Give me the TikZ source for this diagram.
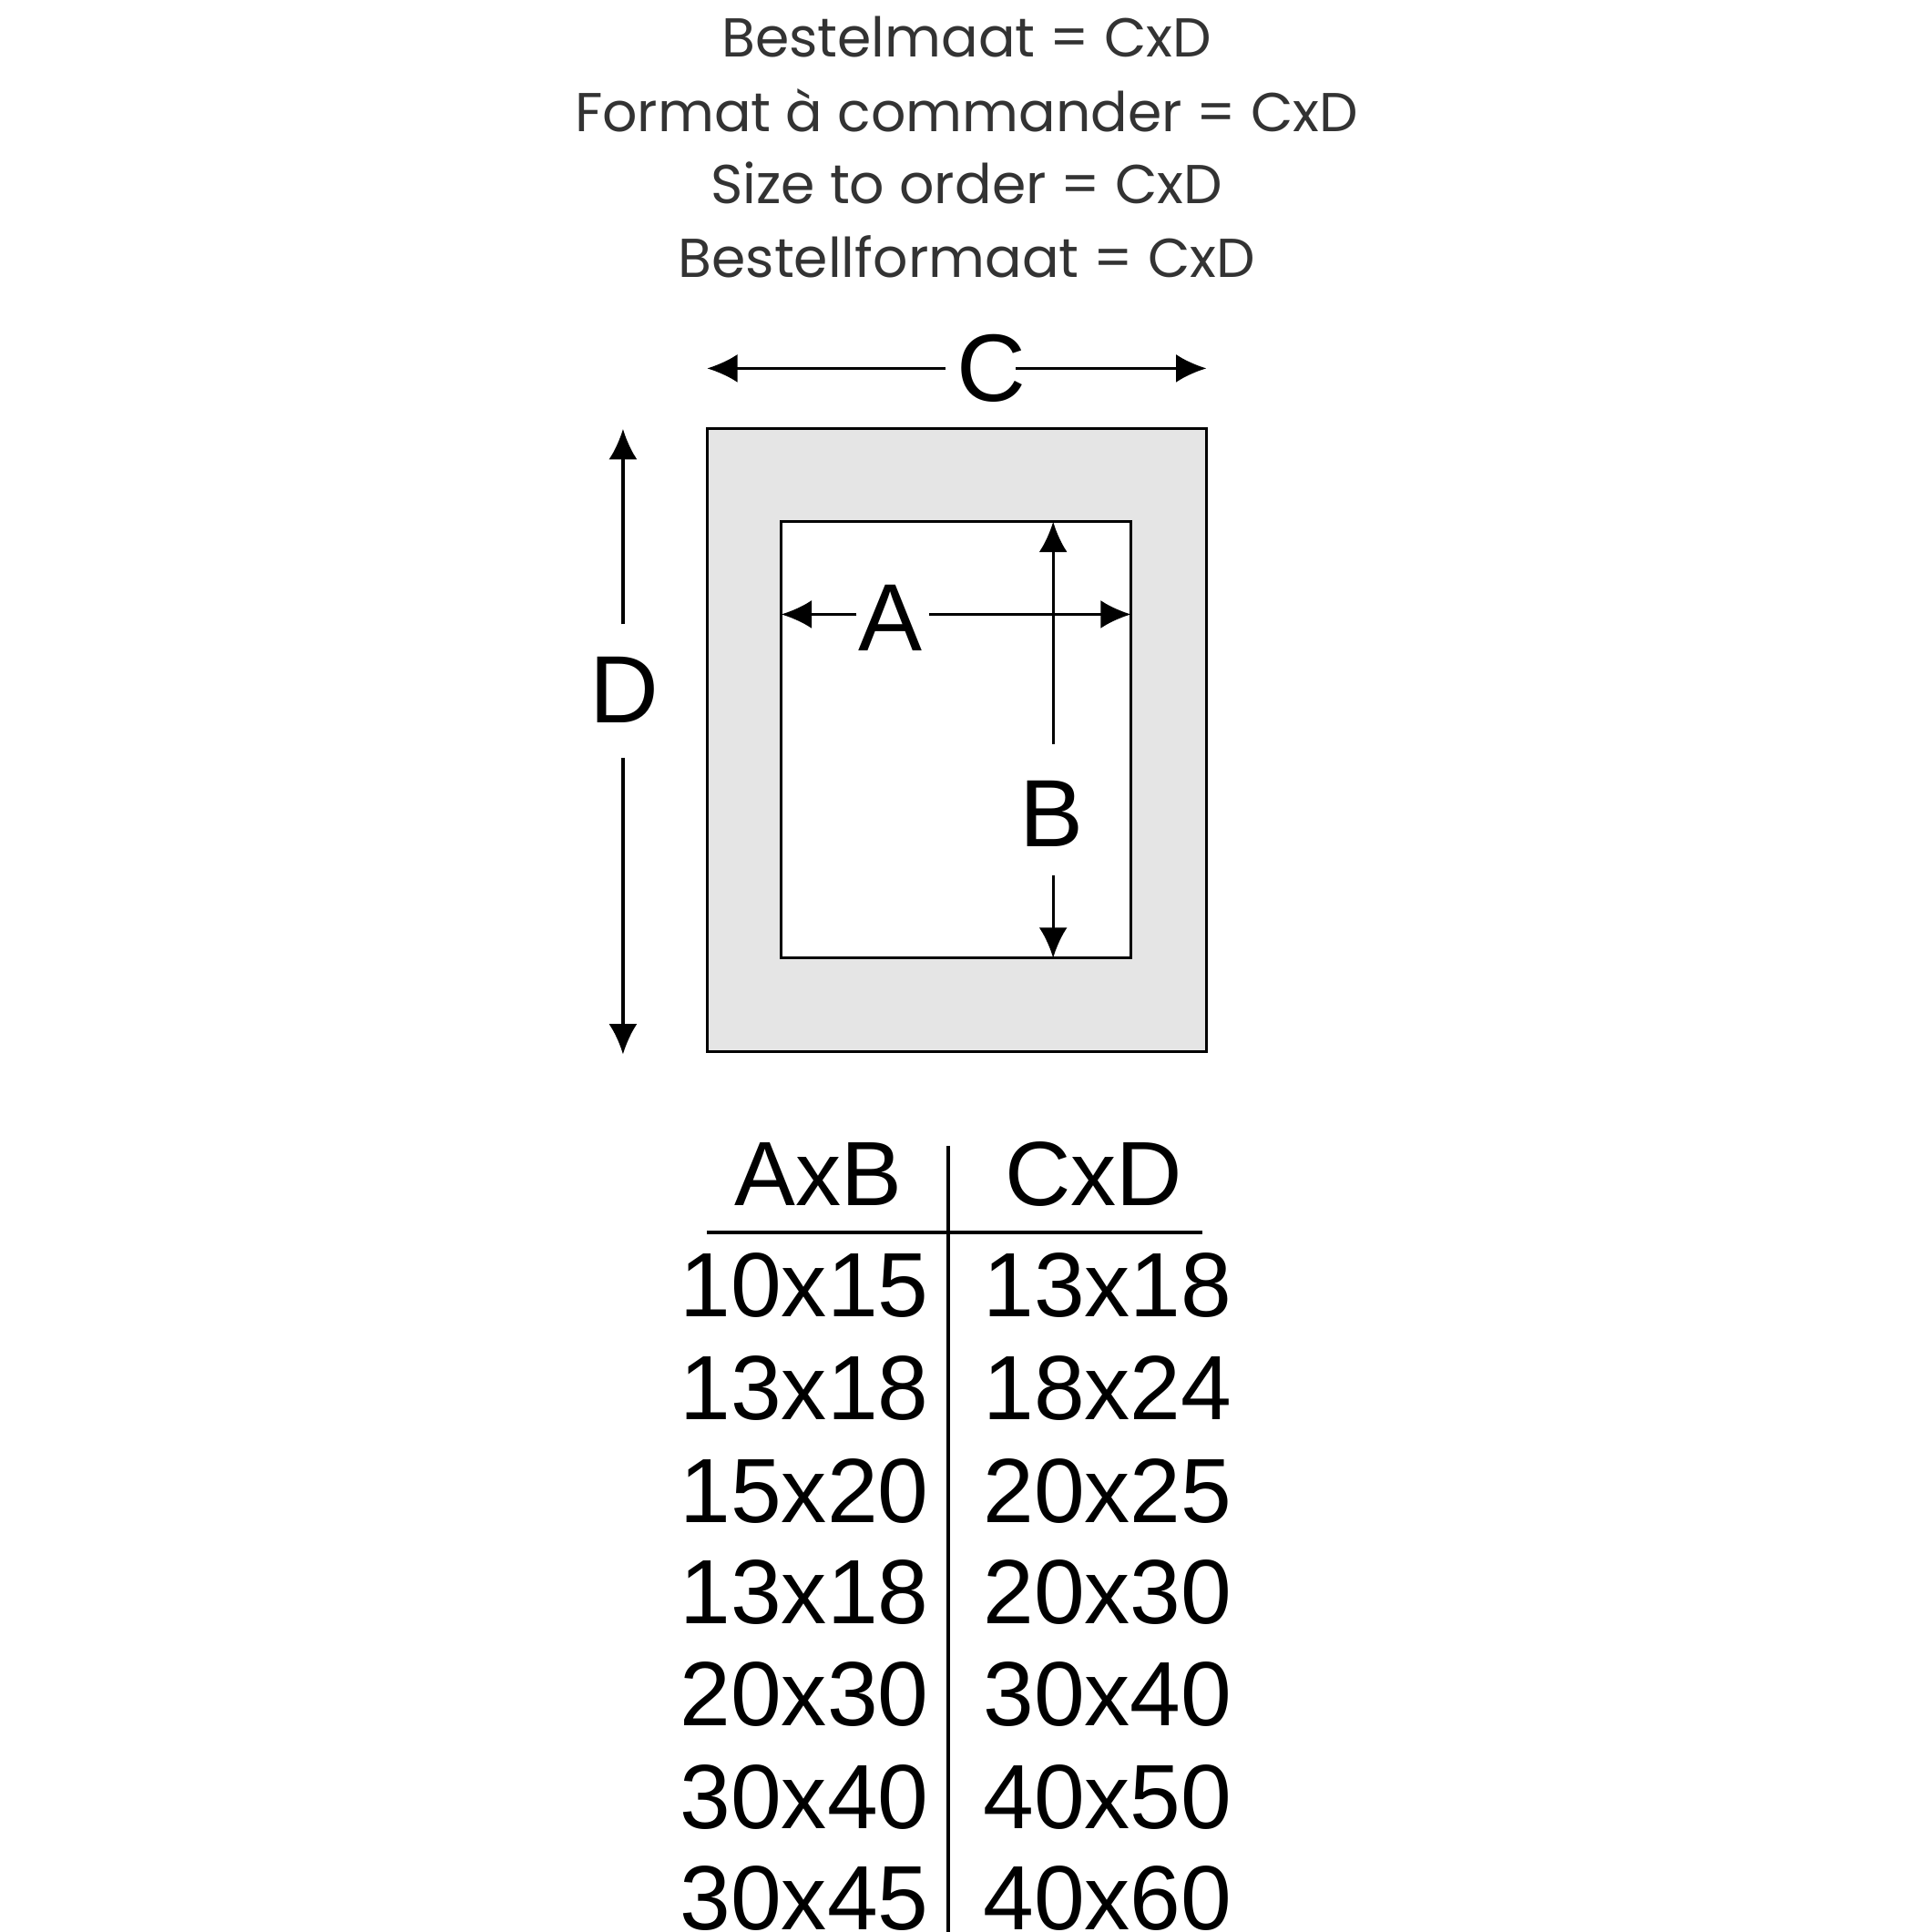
\documentclass[tikz,border=0pt]{standalone}
\usepackage{fontspec}
\setmainfont{Liberation Sans}
\newfontfamily\headfont{Poppins}
\usetikzlibrary{arrows.meta, positioning}
\definecolor{matgray}{RGB}{229,229,229}
\definecolor{headgray}{RGB}{51,51,51}
\tikzset{
  dim/.style = {draw, line width=0.7pt, -{Latex[length=7pt,width=6.5pt]}},
  letter/.style = {font=\fontsize{22}{22}\selectfont, inner sep=1pt},
  cell/.style = {font=\fontsize{21}{21}\selectfont, inner sep=0pt},
  head/.style = {font=\headfont\fontsize{12.6}{13}\selectfont, text=headgray, inner sep=0pt}
}
\begin{document}
\begin{tikzpicture}[x=0.01cm, y=-0.01cm]
\useasboundingbox (0,0) rectangle (1563,1563);

% Order text
\foreach \y/\txt in {30/{Bestelmaat = CxD},
                     89/{Format à commander = CxD},
                     148/{Size to order = CxD},
                     208/{Bestellformaat = CxD}}
    \node[head] at (782,\y) {\txt};

% Frame and opening
\draw[fill=matgray, line width=0.6pt] (572,347) rectangle (976,851);
\draw[fill=white, line width=0.6pt] (632,422) rectangle (915,775);

% Dimension lines, broken around the letters
\node[letter] (C) at (802,298) {C};
\coordinate (c1) at (572,298);  \coordinate (c1i) at (765,298);
\coordinate (c2) at (976,298);  \coordinate (c2i) at (822,298);
\draw[dim] (c1i) -- (c1);
\draw[dim] (c2i) -- (c2);

\node[letter] (D) at (505,558) {D};
\coordinate (d1) at (504,347);  \coordinate (d1i) at (504,505);
\coordinate (d2) at (504,853);  \coordinate (d2i) at (504,613);
\draw[dim] (d1i) -- (d1);
\draw[dim] (d2i) -- (d2);

\node[letter] (A) at (720,500) {A};
\coordinate (a1) at (632,497);  \coordinate (a1i) at (693,497);
\coordinate (a2) at (915,497);  \coordinate (a2i) at (752,497);
\draw[dim] (a1i) -- (a1);
\draw[dim] (a2i) -- (a2);

\node[letter] (B) at (851,658) {B};
\coordinate (b1) at (852,422);  \coordinate (b1i) at (852,602);
\coordinate (b2) at (852,775);  \coordinate (b2i) at (852,708);
\draw[dim] (b1i) -- (b1);
\draw[dim] (b2i) -- (b2);

% Size table
\coordinate (v1) at (767,927);
\coordinate (v2) at (767,1563);
\coordinate (h1) at (572,997);
\coordinate (h2) at (973,997);
\draw[line width=0.7pt] (v1) -- (v2);
\draw[line width=0.7pt] (h1) -- (h2);
\node[cell] (hAB) at (662,950) {AxB};
\node[cell] (hCD) at (885,950) {CxD};
\foreach \y/\ab/\cd in {1040/10x15/13x18, 1123/13x18/18x24, 1206/15x20/20x25,
                        1288/13x18/20x30, 1371/20x30/30x40, 1454/30x40/40x50,
                        1536/30x45/40x60}
{
    \node[cell, anchor=east] at (752,\y) {\ab};
    \node[cell] at (896,\y) {\cd};
}
\end{tikzpicture}
\end{document}
